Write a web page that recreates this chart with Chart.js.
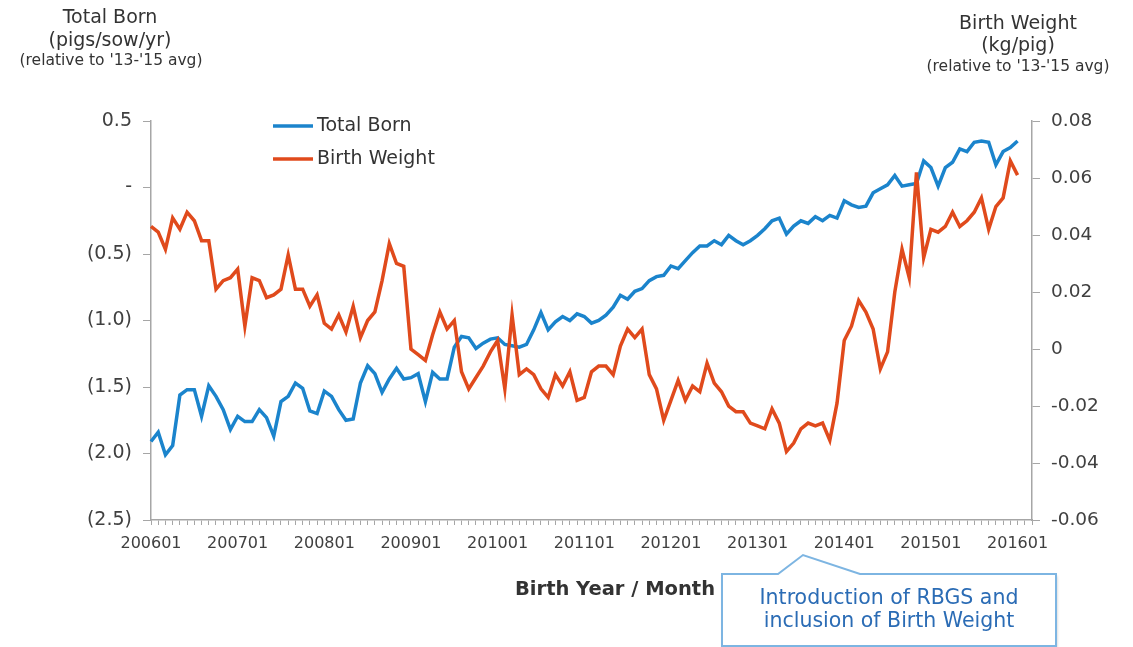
<!DOCTYPE html>
<html>
<head>
<meta charset="utf-8">
<script src="https://cdn.jsdelivr.net/npm/chart.js@4.4.1/dist/chart.umd.min.js"></script>
<style>
  html, body { margin: 0; padding: 0; background: #fff; }
  #wrap { width: 1133px; height: 647px; }
</style>
</head>
<body>
<div id="wrap"><canvas id="pigChart" width="1133" height="647"></canvas></div>
<script>
/* Chart data */
let months = [];
for (let y = 2006; y <= 2016; y++) {
    for (let m = 1; m <= 12; m++) {
        if (y === 2016 && m > 3) break;
        months.push(String(y) + (m < 10 ? '0' : '') + m);
    }
}

// Total Born (pigs/sow/yr), relative to '13-'15 avg, 200601..201601
let totalBorn = [
    -1.91, -1.84, -2.01, -1.94, -1.56, -1.52, -1.52, -1.72, -1.49, -1.57, -1.67, -1.82,
    -1.72, -1.76, -1.76, -1.67, -1.73, -1.87, -1.61, -1.57, -1.47, -1.51, -1.68, -1.70,
    -1.53, -1.57, -1.67, -1.75, -1.74, -1.47, -1.34, -1.40, -1.54, -1.44, -1.36, -1.44,
    -1.43, -1.40, -1.61, -1.39, -1.44, -1.44, -1.20, -1.12, -1.13, -1.21, -1.17, -1.14,
    -1.13, -1.18, -1.19, -1.20, -1.18, -1.07, -0.94, -1.07, -1.01, -0.97, -1.00, -0.95,
    -0.97, -1.02, -1.00, -0.96, -0.90, -0.81, -0.84, -0.78, -0.76, -0.70, -0.67, -0.66,
    -0.59, -0.61, -0.55, -0.49, -0.44, -0.44, -0.40, -0.43, -0.36, -0.40, -0.43, -0.40,
    -0.36, -0.31, -0.25, -0.23, -0.35, -0.29, -0.25, -0.27, -0.22, -0.25, -0.21, -0.23,
    -0.10, -0.13, -0.15, -0.14, -0.04, -0.01, 0.02, 0.09, 0.01, 0.02, 0.03, 0.20,
    0.15, 0.01, 0.15, 0.19, 0.29, 0.27, 0.34, 0.35, 0.34, 0.17, 0.27, 0.30,
    0.35
];

// Birth Weight (kg/pig), relative to '13-'15 avg
let birthWeight = [
    0.043, 0.041, 0.035, 0.046, 0.042, 0.048, 0.045, 0.038, 0.038, 0.021, 0.024, 0.025,
    0.028, 0.008, 0.025, 0.024, 0.018, 0.019, 0.021, 0.033, 0.021, 0.021, 0.015, 0.019,
    0.009, 0.007, 0.012, 0.006, 0.015, 0.004, 0.010, 0.013, 0.024, 0.037, 0.030, 0.029,
    0.000, -0.002, -0.004, 0.005, 0.013, 0.007, 0.010, -0.008, -0.014, -0.010, -0.006, -0.001,
    0.003, -0.014, 0.012, -0.009, -0.007, -0.009, -0.014, -0.017, -0.009, -0.013, -0.008, -0.018,
    -0.017, -0.008, -0.006, -0.006, -0.009, 0.001, 0.007, 0.004, 0.007, -0.009, -0.014, -0.025,
    -0.018, -0.011, -0.018, -0.013, -0.015, -0.005, -0.012, -0.015, -0.020, -0.022, -0.022, -0.026,
    -0.027, -0.028, -0.021, -0.026, -0.036, -0.033, -0.028, -0.026, -0.027, -0.026, -0.032, -0.019,
    0.003, 0.008, 0.017, 0.013, 0.007, -0.007, -0.001, 0.020, 0.035, 0.025, 0.062, 0.032,
    0.042, 0.041, 0.043, 0.048, 0.043, 0.045, 0.048, 0.053, 0.042, 0.050, 0.053, 0.066,
    0.061
];

let seriesNames = ['Total Born', 'Birth Weight'];
let seriesColors = ['#1b84cc', '#e04a1c'];
let calloutLines = ['Introduction of RBGS and', 'inclusion of Birth Weight'];

const FONT = 'Verdana, "DejaVu Sans", sans-serif';
const AXIS_GREY = '#a6a6a6';

/* Titles, legend and callout */
const extras = {
    id: 'extras',
    afterDraw(chart) {
        let ctx = chart.ctx;
        ctx.save();
        ctx.fillStyle = '#333';
        ctx.textAlign = 'center';
        ctx.textBaseline = 'middle';

        ctx.font = '19px ' + FONT;
        ctx.fillText('Total Born', 110, 18);
        ctx.fillText('(pigs/sow/yr)', 110, 41);
        ctx.fillText('Birth Weight', 1018, 24);
        ctx.fillText('(kg/pig)', 1018, 46);
        ctx.font = '15.5px ' + FONT;
        ctx.fillText("(relative to '13-'15 avg)", 111, 61);
        ctx.fillText("(relative to '13-'15 avg)", 1018, 67);

        ctx.font = 'bold 19.5px ' + FONT;
        ctx.fillText('Birth Year / Month', 615, 590);

        // legend inside the plot
        ctx.textAlign = 'left';
        ctx.font = '19px ' + FONT;
        chart.data.datasets.forEach(function (ds, k) {
            let y = 126 + k * 33;
            ctx.strokeStyle = ds.borderColor;
            ctx.lineWidth = 3.5;
            ctx.beginPath();
            ctx.moveTo(273, y);
            ctx.lineTo(313, y);
            ctx.stroke();
            ctx.fillStyle = '#333';
            ctx.fillText(ds.label, 317, y);
        });

        // callout box
        ctx.shadowColor = 'rgba(0,0,0,0.25)';
        ctx.shadowBlur = 3;
        ctx.shadowOffsetX = 1;
        ctx.shadowOffsetY = 2;
        ctx.beginPath();
        ctx.moveTo(722, 574);
        ctx.lineTo(778, 574);
        ctx.lineTo(803, 555);
        ctx.lineTo(860, 574);
        ctx.lineTo(1056, 574);
        ctx.lineTo(1056, 646);
        ctx.lineTo(722, 646);
        ctx.closePath();
        ctx.fillStyle = '#fff';
        ctx.fill();
        ctx.shadowColor = 'transparent';
        ctx.strokeStyle = '#7db5e2';
        ctx.lineWidth = 2;
        ctx.stroke();

        ctx.fillStyle = '#2b6cb5';
        ctx.textAlign = 'center';
        ctx.font = '20.5px ' + FONT;
        ctx.fillText(calloutLines[0], 889, 599);
        ctx.fillText(calloutLines[1], 889, 622);
        ctx.restore();
    }
};

let ctx = document.getElementById('pigChart').getContext('2d');

let graphic = new Chart(ctx, {
    type: 'line',
    data: {
        labels: months,
        datasets: [
            {
                label: seriesNames[0],
                data: totalBorn,
                yAxisID: 'yLeft',
                borderColor: seriesColors[0],
                backgroundColor: seriesColors[0],
                borderWidth: 3.5,
                pointRadius: 0,
                tension: 0,
                order: 1
            },
            {
                label: seriesNames[1],
                data: birthWeight,
                yAxisID: 'yRight',
                borderColor: seriesColors[1],
                backgroundColor: seriesColors[1],
                borderWidth: 3.5,
                pointRadius: 0,
                tension: 0,
                order: 0
            }
        ]
    },
    options: {
        responsive: false,
        animation: false,
        layout: { padding: { top: 121, left: 0, right: 0, bottom: 0 } },
        plugins: {
            legend: { display: false },
            tooltip: { enabled: false },
            title: { display: false }
        },
        scales: {
            x: {
                type: 'category',
                offset: false,
                afterFit: function (scale) { scale.height = 127; },
                grid: {
                    drawOnChartArea: false,
                    drawTicks: true,
                    tickLength: 5,
                    color: AXIS_GREY
                },
                border: { color: AXIS_GREY, width: 1.5 },
                ticks: {
                    autoSkip: false,
                    maxRotation: 0,
                    minRotation: 0,
                    padding: 9,
                    color: '#404040',
                    font: { family: FONT, size: 16 },
                    callback: function (value, index) {
                        let lab = months[index];
                        return lab.slice(4) === '01' ? lab : '';
                    }
                }
            },
            yLeft: {
                position: 'left',
                min: -2.5,
                max: 0.5,
                afterFit: function (scale) { scale.width = 151; },
                grid: {
                    drawOnChartArea: false,
                    tickLength: 8,
                    color: AXIS_GREY
                },
                border: { color: AXIS_GREY, width: 1.5 },
                ticks: {
                    stepSize: 0.5,
                    padding: 11,
                    color: '#404040',
                    font: { family: FONT, size: 19 },
                    callback: function (v) {
                        if (Math.abs(v) < 1e-9) return '-';
                        if (v < 0) return '(' + Math.abs(v).toFixed(1) + ')';
                        return v.toFixed(1);
                    }
                }
            },
            yRight: {
                position: 'right',
                min: -0.06,
                max: 0.08,
                afterFit: function (scale) { scale.width = 101; },
                grid: {
                    drawOnChartArea: false,
                    tickLength: 8,
                    color: AXIS_GREY
                },
                border: { color: AXIS_GREY, width: 1.5 },
                ticks: {
                    stepSize: 0.02,
                    padding: 11,
                    color: '#404040',
                    font: { family: FONT, size: 18.5 },
                    callback: function (v) {
                        if (Math.abs(v) < 1e-9) return '0';
                        return v.toFixed(2);
                    }
                }
            }
        }
    },
    plugins: [extras]
});
</script>
</body>
</html>
